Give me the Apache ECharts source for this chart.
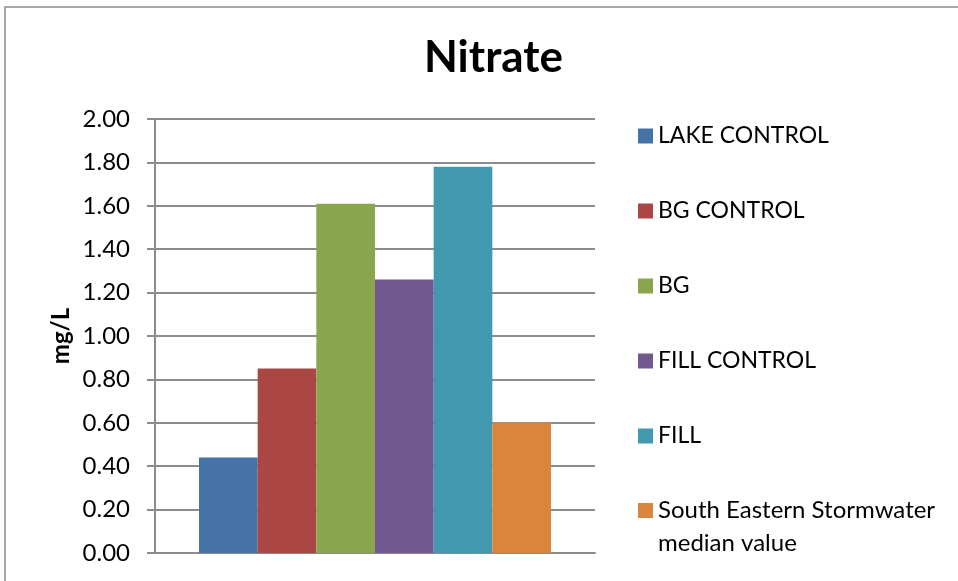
<!DOCTYPE html>
<html>
<head>
<meta charset="utf-8">
<script src="https://cdn.jsdelivr.net/npm/echarts@6/dist/echarts.min.js"></script>
<style>
    html, body { margin: 0; padding: 0; background: #fff; }
    #nitrateChart { width: 958px; height: 581px; }
</style>
</head>
<body>
<div id="nitrateChart"></div>
<script>
    // data
    var categories = ['Nitrate']
    var seriesNames = ['LAKE CONTROL', 'BG CONTROL', 'BG', 'FILL CONTROL', 'FILL', 'South Eastern Stormwater median value']
    var seriesValues = [0.44, 0.85, 1.61, 1.26, 1.78, 0.60]
    var colors = ['#4572A7', '#AA4643', '#89A54E', '#71588F', '#4198AF', '#DB843D']

    var font = 'Lato, "Noto Sans", sans-serif'
    var gridGrey = '#8c8c8c'

    var series = seriesNames.map(function (name, i) {
        return {
            name: name,
            type: 'bar',
            barGap: 0,
            barCategoryGap: '20%',
            itemStyle: { color: colors[i] },
            data: [seriesValues[i]]
        }
    })

    var option = {
        animation: false,
        backgroundColor: '#fff',
        color: colors,
        title: {
            text: 'Nitrate',
            left: 419,
            top: 31,
            textStyle: { fontFamily: font, fontSize: 44, fontWeight: 'bold', color: '#000' }
        },
        graphic: [{
            type: 'rect',
            shape: { x: 5, y: 7, width: 980, height: 600 },
            style: { fill: 'none', stroke: '#8c8c8c', lineWidth: 1.5 },
            silent: true
        }],
        legend: [{
            orient: 'vertical',
            left: 638,
            top: 124,
            padding: 0,
            itemWidth: 15,
            itemHeight: 15,
            itemGap: 51,
            icon: 'rect',
            data: seriesNames.slice(0, 5),
            textStyle: { fontFamily: font, fontSize: 23, color: '#000', lineHeight: 24 }
        }, {
            orient: 'vertical',
            left: 638,
            top: 461,
            padding: 0,
            itemWidth: 15,
            itemHeight: 15,
            icon: 'rect',
            data: seriesNames.slice(5),
            // blank first line keeps the square beside the first text line
            formatter: function () { return '\nSouth Eastern Stormwater\nmedian value' },
            textStyle: { fontFamily: font, fontSize: 24, color: '#000', lineHeight: 33 }
        }],
        grid: {
            left: 155,
            right: 363,
            top: 119,
            bottom: 28,
            containLabel: false
        },
        xAxis: {
            type: 'category',
            data: categories,
            axisLine: { show: true, lineStyle: { color: gridGrey, width: 2 } },
            axisTick: { show: false },
            axisLabel: { show: false }
        },
        yAxis: {
            type: 'value',
            min: 0,
            max: 2,
            interval: 0.2,
            name: 'mg/L',
            nameLocation: 'middle',
            nameGap: 82,
            nameTextStyle: { fontFamily: font, fontSize: 24, fontWeight: 'bold', color: '#000' },
            axisLine: { show: true, lineStyle: { color: gridGrey, width: 2 } },
            axisTick: { show: true, length: 8, lineStyle: { color: gridGrey, width: 2 } },
            axisLabel: {
                margin: 25,
                fontFamily: font,
                fontSize: 24,
                color: '#000',
                formatter: function (v) { return v.toFixed(2) }
            },
            splitLine: { show: true, lineStyle: { color: gridGrey, width: 2 } }
        },
        series: series
    }

    var myChart = echarts.init(document.getElementById('nitrateChart'))
    myChart.setOption(option)
</script>
</body>
</html>
